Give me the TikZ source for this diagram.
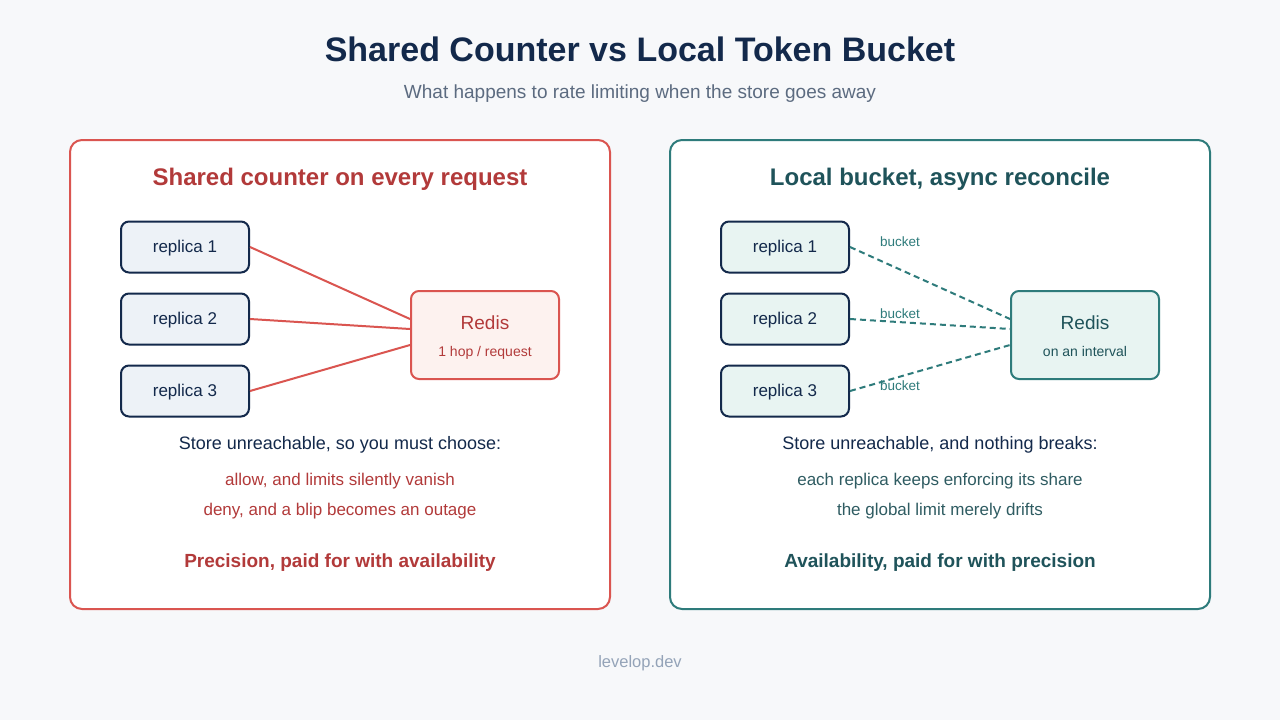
\documentclass[tikz,border=0pt]{standalone}
\usepackage{fontspec}
\setmainfont{Liberation Sans}
\usetikzlibrary{positioning,calc}

\definecolor{pagebg}{HTML}{F7F8FA}
\definecolor{navy}{HTML}{13294B}
\definecolor{subgray}{HTML}{5C6B80}
\definecolor{footgray}{HTML}{94A3B8}
\definecolor{redline}{HTML}{DA5550}
\definecolor{redtext}{HTML}{B23A3A}
\definecolor{redfill}{HTML}{FDF2EF}
\definecolor{tealline}{HTML}{2E7B7B}
\definecolor{tealtext}{HTML}{1F535A}
\definecolor{tealsoft}{HTML}{2F5C62}
\definecolor{tealfill}{HTML}{E8F4F2}
\definecolor{replfill}{HTML}{EDF2F7}

\newcommand{\fs}[1]{\fontsize{#1}{#1}\selectfont}

\begin{document}
\begin{tikzpicture}[
  x=1pt, y=-1pt,
  txt/.style={inner sep=0pt, font=\fs{#1}, text height=0.905*#1pt, text depth=0.212*#1pt},
  btxt/.style={txt=#1, font=\bfseries\fs{#1}},
  panel/.style={line width=2pt, rounded corners=12pt, fill=white},
  replica/.style={txt=17, draw=navy, line width=2pt, rounded corners=8pt,
    minimum width=128pt, minimum height=51pt, text=navy},
  store/.style={line width=2pt, rounded corners=8pt,
    minimum width=148pt, minimum height=88pt, inner sep=0pt},
  hit/.style={draw=redline, line width=2pt},
  sync/.style={draw=tealline, line width=2pt, dash pattern=on 6pt off 4pt},
  lbl/.style={txt=13.5, text=tealline}
]
\fill[pagebg] (0,0) rectangle (1280,720);
\useasboundingbox (0,0) rectangle (1280,720);

\node[btxt=34, text=navy] (title) at (640,50) {Shared Counter vs Local Token Bucket};
\node[txt=19, text=subgray] (subtitle) at (640,92) {What happens to rate limiting when the store goes away};

% left: shared counter
\draw[panel, draw=redline] (70,140) rectangle (610,609);
\node[btxt=24, text=redtext] (headL) at (340,177) {Shared counter on every request};

\node[replica, fill=replfill] (l1) at (185,247) {replica 1};
\node[replica, fill=replfill] (l2) at (185,319) {replica 2};
\node[replica, fill=replfill] (l3) at (185,391) {replica 3};

\node[store, draw=redline, fill=redfill] (redisL) at (485,335) {};
\node[txt=19, text=redtext] (redisLname) at (485,323) {Redis};
\node[txt=14, text=redtext] (redisLnote) at (485,352) {1 hop / request};

\draw[hit] (l1.east) -- ($(redisL.west)+(0,-16)$);
\draw[hit] (l2.east) -- ($(redisL.west)+(0,-6)$);
\draw[hit] (l3.east) -- ($(redisL.west)+(0,10)$);

\node[txt=18, text=navy] (failL) at (340,443) {Store unreachable, so you must choose:};
\node[txt=17, text=redtext] (allowL) at (340,480) {allow, and limits silently vanish};
\node[txt=17, text=redtext] (denyL) at (340,510) {deny, and a blip becomes an outage};
\node[btxt=19, text=redtext] (costL) at (340,561) {Precision, paid for with availability};

% right: local bucket
\draw[panel, draw=tealline] (670,140) rectangle (1210,609);
\node[btxt=24, text=tealtext] (headR) at (940,177) {Local bucket, async reconcile};

\node[replica, fill=tealfill] (r1) at (785,247) {replica 1};
\node[replica, fill=tealfill] (r2) at (785,319) {replica 2};
\node[replica, fill=tealfill] (r3) at (785,391) {replica 3};

\node[store, draw=tealline, fill=tealfill] (redisR) at (1085,335) {};
\node[txt=19, text=tealtext] (redisRname) at (1085,323) {Redis};
\node[txt=14, text=tealtext] (redisRnote) at (1085,352) {on an interval};

\draw[sync] (r1.east) -- ($(redisR.west)+(0,-16)$);
\draw[sync] (r2.east) -- ($(redisR.west)+(0,-6)$);
\draw[sync] (r3.east) -- ($(redisR.west)+(0,10)$);
\node[lbl] (b1) at ($(r1.east)+(50,-5)$) {bucket};
\node[lbl] (b2) at ($(r2.east)+(50,-5)$) {bucket};
\node[lbl] (b3) at ($(r3.east)+(50,-5)$) {bucket};

\node[txt=18, text=navy] (failR) at (940,443) {Store unreachable, and nothing breaks:};
\node[txt=17, text=tealsoft] (shareR) at (940,480) {each replica keeps enforcing its share};
\node[txt=17, text=tealsoft] (driftR) at (940,510) {the global limit merely drifts};
\node[btxt=19, text=tealtext] (costR) at (940,561) {Availability, paid for with precision};

\node[txt=16.5, text=footgray] (footer) at (640,662) {levelop.dev};
\end{tikzpicture}
\end{document}
